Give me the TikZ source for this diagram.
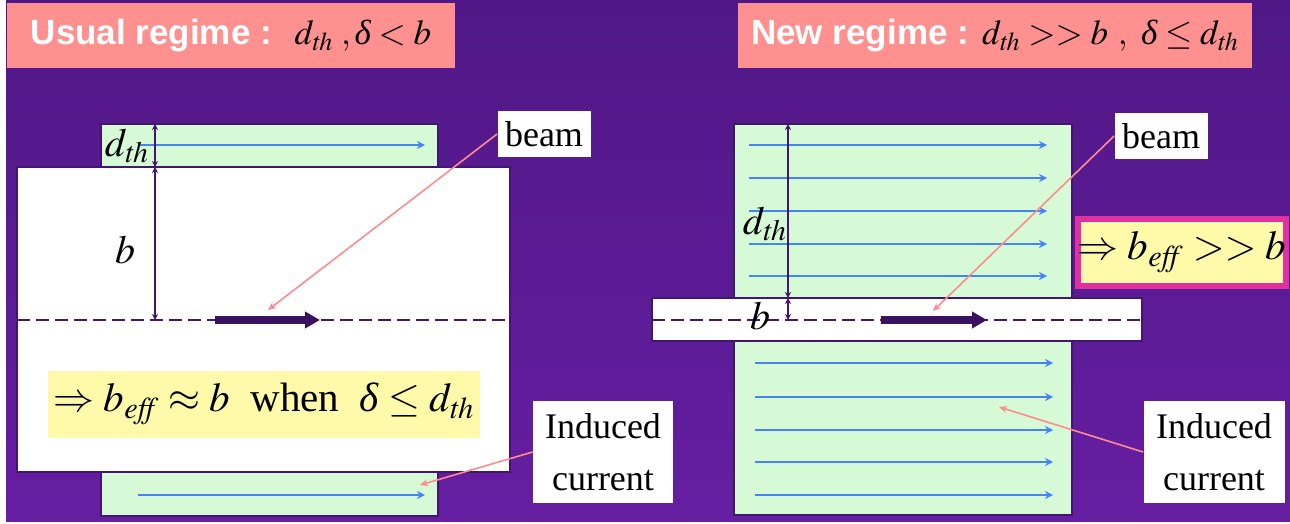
\documentclass[tikz,border=0pt]{standalone}
\usepackage{mathptmx}
\usepackage{fontspec}
\setmainfont{Liberation Serif}
\setsansfont{Liberation Sans}
\usetikzlibrary{arrows.meta,positioning,calc}

\definecolor{bgtop}{RGB}{80,24,134}
\definecolor{bgbottom}{RGB}{102,30,162}
\definecolor{salmon}{RGB}{255,144,144}
\definecolor{plategreen}{RGB}{213,250,213}
\definecolor{currentblue}{RGB}{70,130,250}
\definecolor{linepurple}{RGB}{64,22,110}
\definecolor{beampurple}{RGB}{58,16,96}
\definecolor{pointerpink}{RGB}{255,140,140}
\definecolor{noteyellow}{RGB}{255,250,170}
\definecolor{notemagenta}{RGB}{226,48,160}

\newcommand{\thsub}{_{\mathit{th}}}
\newcommand{\effsub}{_{\mathit{eff}}}
\newcommand{\dlt}{\mbox{\rmfamily\mdseries\itshape δ}}

\begin{document}
\begin{tikzpicture}[
    x=0.5pt,y=-0.5pt,
    title/.style={fill=salmon,text=white,inner sep=0pt,font=\sffamily\bfseries\fontsize{17.5}{20}\selectfont},
    label/.style={fill=white,inner sep=0pt,align=center,font=\fontsize{18}{26}\selectfont},
    formula/.style={fill=noteyellow,inner sep=0pt,font=\fontsize{20.5}{24}\selectfont},
    sym/.style={inner sep=0pt,font=\fontsize{20}{24}\selectfont},
    plate/.style={fill=plategreen,draw=linepurple,line width=0.6pt},
    wall/.style={fill=white,draw=linepurple,line width=0.6pt},
    flow/.style={-{Stealth[length=4pt,width=4pt]},draw=currentblue,line width=1pt},
    dim/.style={{Stealth[length=3pt,width=3pt]}-{Stealth[length=3pt,width=3pt]},draw=linepurple,line width=0.7pt},
    pointer/.style={-{Stealth[length=4pt,width=3.5pt]},draw=pointerpink,line width=0.8pt},
    axis/.style={draw=linepurple,line width=0.9pt,dash pattern=on 6.5pt off 3pt},
    beamarrow/.style={-{Triangle[length=7.5pt,width=8pt]},draw=beampurple,line width=4pt}
  ]
    \useasboundingbox (0,0) rectangle (1290,524);
    \shade[top color=bgtop,bottom color=bgbottom] (6,0) rectangle (1290,521);

    % titles
    \node[title,minimum width=224pt,minimum height=32.5pt] (usual) at (231,36)
      {Usual regime : \ \textcolor{black}{$d\thsub\;,\dlt < b$}};
    \node[title,minimum width=257pt,minimum height=32.5pt] (new) at (995,36)
      {New regime : \textcolor{black}{$d\thsub >> b\ ,\ \dlt \le d\thsub$}};

    % usual regime
    \filldraw[plate] (101,124) rectangle (438,516);
    \filldraw[wall] (17,167) rectangle (510,472);
    \draw[flow] (138,145) -- (425,145);
    \draw[flow] (138,495) -- (425,495);
    \draw[axis] (17,320) -- (510,320);
    \draw[beamarrow] (215,320) -- (320,320);
    \draw[dim] (155,124) -- (155,167);
    \draw[dim] (155,167) -- (155,320);
    \node[sym] (dthL) at (127,146) {$d\thsub$};
    \node[sym] (bL) at (125,250) {$b$};
    \node[formula,minimum width=216pt,minimum height=33.5pt] (effL) at (264,404)
      {$\Rightarrow b\effsub \approx b$ \ when \ $\dlt \le d\thsub$};
    \node[label,minimum width=46.5pt,minimum height=23pt] (beamL) at (544,134) {beam};
    \node[label,minimum width=70pt,minimum height=51pt] (indL) at (603,452) {Induced\\current};
    \coordinate (beamtipL) at (268,310);
    \coordinate (indtipL) at (420,485);
    \draw[pointer] (beamL.west) -- (beamtipL);
    \draw[pointer] (indL.west) -- (indtipL);

    % new regime
    \filldraw[plate] (734,124) rectangle (1072,515);
    \filldraw[wall] (652,298) rectangle (1142,341);
    \foreach \y in {145,178,211,244,276}
      \draw[flow] (749,\y) -- (1047,\y);
    \foreach \y in {363,397,430,462,495}
      \draw[flow] (755,\y) -- (1053,\y);
    \draw[axis] (652,320) -- (1142,320);
    \draw[beamarrow] (881,320) -- (987,320);
    \draw[dim] (788,124) -- (788,298);
    \draw[dim] (788,298) -- (788,320);
    \node[sym] (dthR) at (765,224) {$d\thsub$};
    \node[sym] (bR) at (760,316) {$b$};
    \node[formula,draw=notemagenta,line width=3pt,minimum width=102.5pt,minimum height=33.5pt] (effR) at (1182,252)
      {$\Rightarrow b\effsub >> b$};
    \node[label,minimum width=46.5pt,minimum height=23pt] (beamR) at (1161,136) {beam};
    \node[label,minimum width=70.5pt,minimum height=51pt] (indR) at (1214,452) {Induced\\current};
    \coordinate (beamtipR) at (933,311);
    \coordinate (indtipR) at (999,407);
    \draw[pointer] (beamR.west) -- (beamtipR);
    \draw[pointer] (indR.west) -- (indtipR);
\end{tikzpicture}
\end{document}
